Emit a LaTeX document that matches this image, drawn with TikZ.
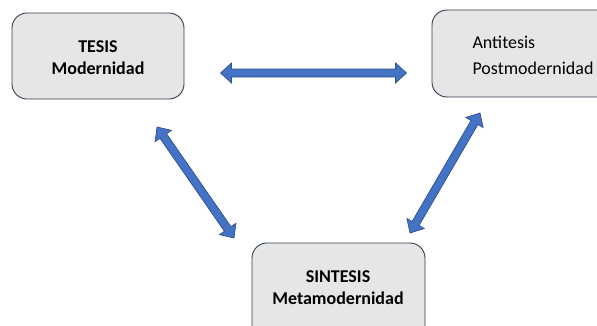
\documentclass[tikz,border=0pt]{standalone}
\usepackage{fontspec}
\setmainfont{Carlito}
\usetikzlibrary{calc}
\definecolor{boxfill}{HTML}{E7E6E6}
\definecolor{boxline}{HTML}{2E3D50}
\definecolor{arrfill}{HTML}{4472C4}
\definecolor{arrline}{HTML}{2F528F}
\tikzset{
  box/.style={draw=boxline, line width=0.9pt, fill=boxfill, rounded corners=15pt},
  boldtxt/.style={font=\fontsize{18}{22}\selectfont\bfseries, align=center},
  regtxt/.style={font=\fontsize{18}{26}\selectfont, align=left},
  fatarrow/.style={draw=arrline, line width=0.7pt, fill=arrfill, line join=miter}
}
\newcommand{\dblarr}[2]{%
  \path[fatarrow] (#1)
    -- ($(#1)!11pt!(#2)!10pt!90:(#2)$)
    -- ($(#1)!11pt!(#2)!4pt!90:(#2)$)
    -- ($(#2)!11pt!(#1)!4pt!-90:(#1)$)
    -- ($(#2)!11pt!(#1)!10pt!-90:(#1)$)
    -- (#2)
    -- ($(#2)!11pt!(#1)!10pt!90:(#1)$)
    -- ($(#2)!11pt!(#1)!4pt!90:(#1)$)
    -- ($(#1)!11pt!(#2)!4pt!-90:(#2)$)
    -- ($(#1)!11pt!(#2)!10pt!-90:(#2)$)
    -- cycle;}
\begin{document}
\begin{tikzpicture}[x=1pt,y=-1pt]
\useasboundingbox (0,0) rectangle (597,325);
\clip (0,0) rectangle (597,325);
% boxes
\path[box] (12,13) rectangle (184,99);
\path[box] (432,10) rectangle (615,97);
\path[box] (252,243) rectangle (425,345);
% texts
\node[boldtxt, anchor=base] (tesis) at (98,74) {TESIS\\Modernidad};
\node[regtxt, anchor=base west] (anti) at (469,74) {Antitesis\\Postmodernidad};
\node[boldtxt, anchor=base] (sint) at (338,304) {SINTESIS\\Metamodernidad};
% arrow ends
\coordinate (h1) at (220.5,73);
\coordinate (h2) at (406.5,73);
\coordinate (l1) at (157,127);
\coordinate (l2) at (234,238);
\coordinate (r1) at (480,113);
\coordinate (r2) at (410,233);
\dblarr{h1}{h2}
\dblarr{l1}{l2}
\dblarr{r1}{r2}
\end{tikzpicture}
\end{document}
